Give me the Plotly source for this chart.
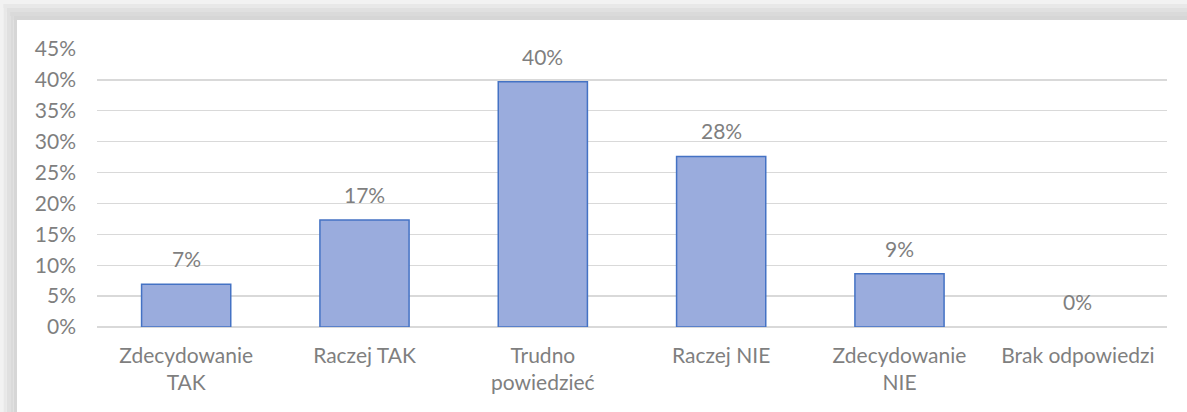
import plotly.graph_objects as go

categories = ["Zdecydowanie<br>TAK", "Raczej TAK", "Trudno<br>powiedzieć", "Raczej NIE", "Zdecydowanie<br>NIE", "Brak odpowiedzi"]
values = [0.069, 0.173, 0.397, 0.276, 0.086, 0.0]
labels = ["7%", "17%", "40%", "28%", "9%", "0%"]
tick_vals = [0, 0.05, 0.10, 0.15, 0.20, 0.25, 0.30, 0.35, 0.40, 0.45]
tick_text = ["0%", "5%", "10%", "15%", "20%", "25%", "30%", "35%", "40%", "45%"]

W, H = 1187, 412
ML, MR, MT, MB = 97, 20, 49, 85
FONT = "Lato"
GREY = "#7f7f7f"
FS = 21

fig = go.Figure()
fig.add_trace(go.Bar(
    x=categories, y=values,
    marker=dict(color="#9aacdd",
                line=dict(color="#4472c4", width=[1.5 if v > 0 else 0 for v in values])),
    width=0.5,
    hoverinfo="skip",
))

for c, v, t in zip(categories, values, labels):
    fig.add_annotation(x=c, y=v, text=t, showarrow=False, yanchor="bottom", yshift=11,
                       font=dict(family=FONT, size=FS, color=GREY))

# frame shadow (top and left bands)
pw = W - ML - MR
ph = H - MT - MB
def px(x):
    return (x - ML) / pw
def py(y):
    return (H - MB - y) / ph

shades = ["#f2f2f2", "#e8e8e8", "#e0e0e0", "#dadada", "#d6d6d6"]
shapes = []
band_top = 20
band_left = 17
n = len(shades)
for i, col in enumerate(shades):
    y0 = band_top * i / n
    y1 = band_top * (i + 1) / n
    shapes.append(dict(type="rect", xref="paper", yref="paper", x0=px(band_left * i / n), x1=px(W + 5),
                       y0=py(y1), y1=py(y0), fillcolor=col, line=dict(width=0), layer="below"))
    x0 = band_left * i / n
    x1 = band_left * (i + 1) / n
    shapes.append(dict(type="rect", xref="paper", yref="paper", x0=px(x0), x1=px(x1),
                       y0=py(H + 5), y1=py(band_top * i / n), fillcolor=col, line=dict(width=0), layer="below"))

fig.update_layout(
    width=W, height=H,
    margin=dict(l=ML, r=MR, t=MT, b=MB, autoexpand=False),
    paper_bgcolor="white", plot_bgcolor="white",
    showlegend=False,
    shapes=shapes,
    font=dict(family=FONT, size=FS, color=GREY),
    bargap=0.5,
    xaxis=dict(showgrid=False, showline=False, ticks="", tickfont=dict(family=FONT, size=FS, color=GREY),
               ticklabelstandoff=14, fixedrange=True, automargin=False),
    yaxis=dict(range=[0, 0.45], tickvals=tick_vals, ticktext=tick_text, showgrid=True,
               gridcolor="#d9d9d9", gridwidth=1.3, zeroline=True, zerolinecolor="#d9d9d9", zerolinewidth=1.3,
               showline=False, ticks="", ticklabelstandoff=20, automargin=False,
               tickfont=dict(family=FONT, size=FS, color=GREY), fixedrange=True),
)

fig.write_html("out.html", config={"displayModeBar": False, "staticPlot": True},
               post_script="document.body.style.margin='0';document.body.style.padding='0';")
